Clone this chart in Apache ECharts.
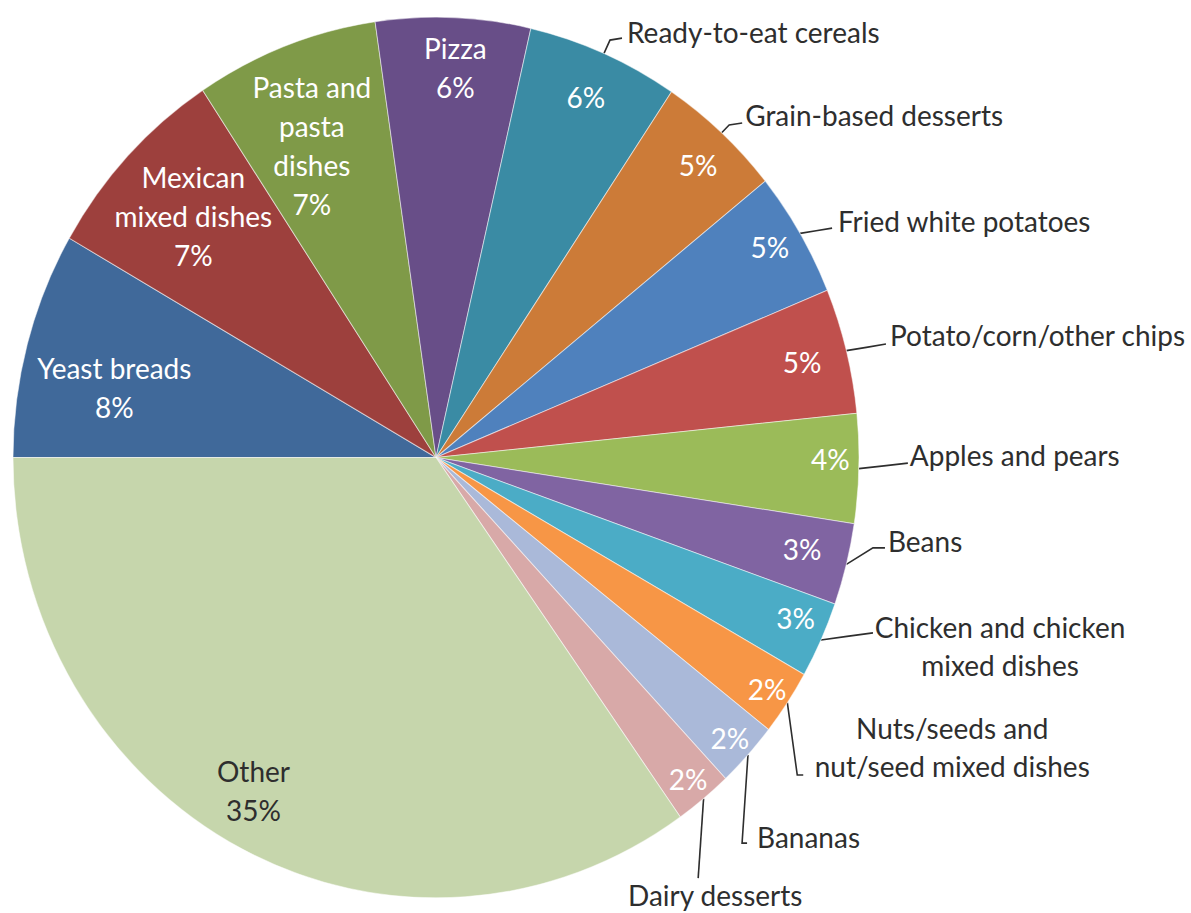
<!DOCTYPE html>
<html>
<head>
<meta charset="utf-8">
<title>Food sources</title>
<script src="https://cdn.jsdelivr.net/npm/echarts@6/dist/echarts.min.js"></script>
<style>
  html, body { margin: 0; padding: 0; background: #ffffff; overflow: hidden; }
  #wrap { width: 1191px; height: 913px; overflow: hidden; }
  /* the pie is drawn on a 1191x877 surface and stretched slightly taller */
  #chart { width: 1191px; height: 877px; transform: scaleY(1.041); transform-origin: 0 0; }
</style>
</head>
<body>
<div id="wrap"><div id="chart"></div></div>
<script>
// ---- data ----
const categories = [
  'Yeast breads', 'Mexican mixed dishes', 'Pasta and pasta dishes', 'Pizza',
  'Ready-to-eat cereals', 'Grain-based desserts', 'Fried white potatoes',
  'Potato/corn/other chips', 'Apples and pears', 'Beans',
  'Chicken and chicken mixed dishes', 'Nuts/seeds and nut/seed mixed dishes',
  'Bananas', 'Dairy desserts', 'Other'
];
const shares = [8.3, 7.4, 7.0, 5.9, 5.8, 4.8, 4.6, 4.6, 4.0, 3.0, 2.8, 2.4, 2.4, 2.2, 34.8];

// ---- styling ----
const sliceColors = [
  '#40699A', '#9D403D', '#7F9A48', '#684E88', '#3A8BA4', '#CC7B38', '#4F81BD',
  '#C0504D', '#9BBB59', '#8064A2', '#4BACC6', '#F79646', '#AAB9D9', '#D8A9A8', '#C6D6AC'
];
const wrappedNames = {
  'Mexican mixed dishes': 'Mexican\nmixed dishes',
  'Pasta and pasta dishes': 'Pasta and\npasta\ndishes',
  'Chicken and chicken mixed dishes': 'Chicken and chicken\nmixed dishes',
  'Nuts/seeds and nut/seed mixed dishes': 'Nuts/seeds and\nnut/seed mixed dishes'
};
const namedInside = ['Yeast breads', 'Mexican mixed dishes', 'Pasta and pasta dishes', 'Pizza', 'Other'];
// in-slice labels sit at these fractions of the radius
const insideRings = [
  { at: 0.78,  members: ['Yeast breads', 'Mexican mixed dishes'] },
  { at: 0.77,  members: ['Pasta and pasta dishes'] },
  { at: 0.87,  members: ['Other'] },
  { at: 0.885, members: ['Pizza', 'Ready-to-eat cereals', 'Potato/corn/other chips', 'Beans'] },
  { at: 0.91,  members: ['Grain-based desserts', 'Fried white potatoes'] },
  { at: 0.935, members: ['Apples and pears', 'Chicken and chicken mixed dishes',
                         'Nuts/seeds and nut/seed mixed dishes', 'Bananas', 'Dairy desserts'] }
];
// small nudges of in-slice labels, [right, down] in px
const insideNudge = {
  'Yeast breads': [0, 18],
  'Mexican mixed dishes': [0, -4],
  'Pasta and pasta dishes': [-7, 7],
  'Pizza': [4, 2],
  'Grain-based desserts': [0, 5],
  'Fried white potatoes': [0, -5],
  'Beans': [0, -4],
  'Other': [-12, -10],
  'Apples and pears': [-4, -9],
  'Chicken and chicken mixed dishes': [-3, -11]
};
// callout geometry, relative to the slice's outer edge point
const leaders = {
  'Ready-to-eat cereals':      { bend: [6, -12.8],   end: [18, -14.7],  text: [23, -20.5],  align: 'left' },
  'Grain-based desserts':      { bend: [7.5, -7.5],  end: [20.5, -9.4], text: [23.5, -17.1], align: 'left' },
  'Fried white potatoes':      { bend: [16, -2.5],   end: [32, -5],     text: [37.8, -12],  align: 'left' },
  'Potato/corn/other chips':   { bend: [20, -3.2],   end: [39.6, -6.4], text: [43.6, -15.1], align: 'left' },
  'Apples and pears':          { bend: [25, -2.6],   end: [49, -5.3],   text: [51, -13],    align: 'left' },
  'Beans':                     { bend: [26.6, -15.9], end: [38.6, -15.9], text: [41.6, -23], align: 'left' },
  'Chicken and chicken mixed dishes':     { bend: [26, -3.4], end: [52, -6.8], text: [179, 5.2], align: 'center' },
  'Nuts/seeds and nut/seed mixed dishes': { bend: [9.9, 69.4], end: [15.9, 69.4], text: [164.9, 42], align: 'center' },
  'Bananas':                   { bend: [-5.9, 84.7], end: [-0.9, 84.7], text: [9.1, 78.9],  align: 'left' },
  'Dairy desserts':            { bend: [-5.4, 76.4], end: [-5.4, 76.4], text: [11.6, 92.5], align: 'center' }
};

const R = 423, CX = 436, CY = 439.5;
const FONT = 'Lato, "Open Sans", sans-serif';
const FONT_SIZE = 28;
const LINE_H = 37.5;
const DARK = '#2e2e2e';

function pct(v) { return Math.round(v) + '%'; }
function displayName(name) { return wrappedNames[name] || name; }

const common = {
  type: 'pie',
  center: [CX, CY],
  startAngle: 180,
  clockwise: true,
  silent: true,
  animation: false,
  avoidLabelOverlap: false,
  emphasis: { disabled: true }
};

// filled slices
const slices = Object.assign({}, common, {
  radius: [0, R],
  label: { show: false },
  labelLine: { show: false },
  itemStyle: { borderColor: 'rgba(255,255,255,0.5)', borderWidth: 1 },
  data: categories.map((c, i) => ({ name: c, value: shares[i], itemStyle: { color: sliceColors[i] } }))
});

// transparent rings that carry the in-slice labels (label sits mid-ring)
const ringLabels = insideRings.map(ring => Object.assign({}, common, {
  radius: [R * (ring.at - 0.45), R * (ring.at + 0.45)],
  itemStyle: { color: 'rgba(0,0,0,0)', borderWidth: 0 },
  labelLine: { show: false },
  label: {
    show: true, position: 'inside',
    fontFamily: FONT, fontSize: FONT_SIZE, lineHeight: LINE_H,
    textBorderWidth: 0, overflow: 'none',
    formatter: p => namedInside.includes(p.name)
      ? displayName(p.name) + '\n' + pct(p.value)
      : pct(p.value)
  },
  labelLayout: function (params) {
    const n = insideNudge[categories[params.dataIndex]] || [0, 0];
    return { dx: n[0], dy: n[1], hideOverlap: false };
  },
  data: categories.map((c, i) => ({
    name: c, value: shares[i],
    label: { show: ring.members.includes(c), color: c === 'Other' ? DARK : '#ffffff' }
  }))
}));

// transparent overlay that carries the callout names
const callouts = Object.assign({}, common, {
  radius: [0, R],
  itemStyle: { color: 'rgba(0,0,0,0)', borderWidth: 0 },
  label: {
    show: true, position: 'outside',
    fontFamily: FONT, fontSize: FONT_SIZE, lineHeight: LINE_H - 1,
    color: DARK, textBorderWidth: 0,
    formatter: p => displayName(p.name)
  },
  labelLine: { show: true, lineStyle: { color: DARK, width: 1.6 } },
  labelLayout: function (params) {
    const cfg = leaders[categories[params.dataIndex]];
    if (!cfg || !params.labelLinePoints) return {};
    const a = params.labelLinePoints[0];
    return {
      x: a[0] + cfg.text[0],
      y: a[1] + cfg.text[1],
      align: cfg.align,
      verticalAlign: 'middle',
      hideOverlap: false,
      labelLinePoints: [
        [a[0], a[1]],
        [a[0] + cfg.bend[0], a[1] + cfg.bend[1]],
        [a[0] + cfg.end[0], a[1] + cfg.end[1]]
      ]
    };
  },
  data: categories.map((c, i) => ({
    name: c, value: shares[i],
    label: { show: !!leaders[c] },
    labelLine: { show: !!leaders[c] }
  }))
});

const chart = echarts.init(document.getElementById('chart'), null, { renderer: 'svg' });
chart.setOption({
  animation: false,
  backgroundColor: '#ffffff',
  series: [slices].concat(ringLabels, [callouts])
});
</script>
</body>
</html>
